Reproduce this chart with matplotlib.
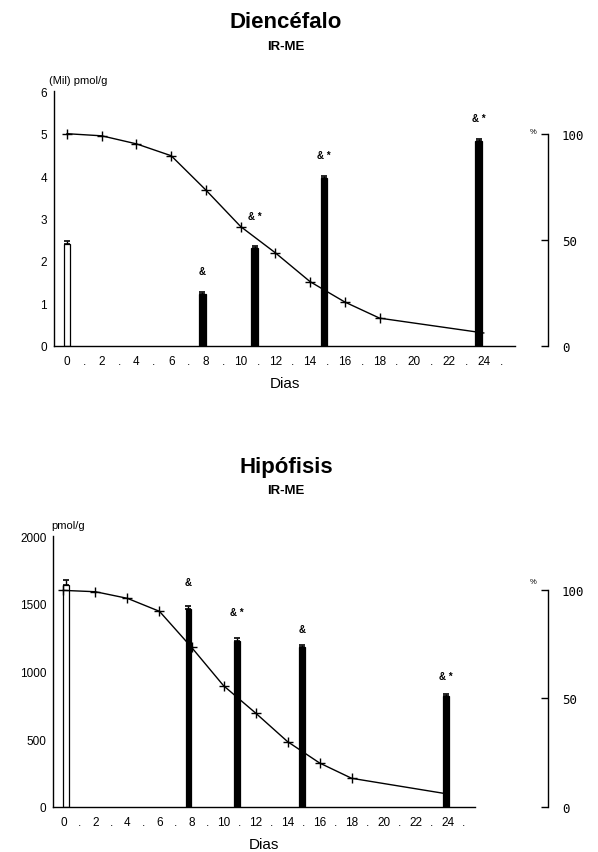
import matplotlib
matplotlib.use("Agg")
import matplotlib.pyplot as plt
from matplotlib.ticker import FixedLocator

# ---------------- data ----------------
days_line = [0, 2, 4, 6, 8, 10, 12, 14, 16, 18, 24]

dien_line = [5.0, 4.95, 4.76, 4.48, 3.67, 2.81, 2.19, 1.51, 1.03, 0.65, 0.30]
dien_bar_x = [0, 7.8, 10.8, 14.8, 23.7]
dien_bar_val = [2.41, 1.21, 2.30, 3.95, 4.83]
dien_bar_err = [0.07, 0.05, 0.04, 0.05, 0.05]
dien_marks = ['', '&', '& *', '& *', '& *']

hipo_line = [1600, 1590, 1541, 1445, 1179, 895, 693, 481, 323, 210, 94]
hipo_bar_x = [0.15, 7.8, 10.85, 14.9, 23.9]
hipo_bar_val = [1640, 1460, 1225, 1180, 820]
hipo_bar_err = [40, 25, 25, 15, 15]
hipo_marks = ['', '&', '& *', '&', '& *']

xtick_pos = list(range(0, 26))
xtick_labels = [str(d) if d % 2 == 0 else '.' for d in xtick_pos]

pct_ticks = [0, 50, 100]

# ---------------- figure ----------------
W, H = 598, 853
fig = plt.figure(figsize=(W / 100, H / 100), dpi=100)
SANS = ['Liberation Sans', 'DejaVu Sans']
MONO = ['DejaVu Sans Mono']


def px_axes(left, right, top, bottom):
    return fig.add_axes([left / W, 1 - bottom / H, (right - left) / W, (bottom - top) / H])


def panel(ax, line, bx, bv, be, marks, ylim, yticks, xlim, bar_w, mark_off,
          pct_top, spine_frac, ylab, ylab_xy, pct_xy, title, title_y, sub_y):
    ax.set_xlim(*xlim)
    ax.set_ylim(*ylim)
    colors = ['white'] + ['black'] * (len(bx) - 1)
    ax.bar(bx, bv, width=bar_w, color=colors, edgecolor='black', linewidth=0.9, zorder=2)
    ax.errorbar(bx, bv, yerr=[[0] * len(be), be], fmt='none', ecolor='black',
                elinewidth=1.0, capsize=2.5, capthick=1.2, zorder=3)
    ax.plot(days_line, line, color='black', lw=1.0, marker='+', ms=7, mew=1.0,
            markevery=list(range(len(line) - 1)), zorder=4)
    for x, v, m, o in zip(bx, bv, marks, mark_off):
        if m:
            ax.text(x, v + o, m, ha='center', va='center', fontsize=7,
                    family=SANS, fontweight='bold')
    for s in ['top', 'right']:
        ax.spines[s].set_visible(False)
    ax.spines['left'].set_linewidth(1.0)
    ax.spines['bottom'].set_linewidth(1.0)
    ax.set_xticks(xtick_pos)
    ax.set_xticklabels(xtick_labels, family=SANS, fontsize=8.5)
    ax.tick_params(axis='x', length=0, pad=7)
    ax.set_yticks(yticks)
    ax.set_yticklabels([str(t) for t in yticks], family=SANS, fontsize=8.5)
    ax.tick_params(axis='y', length=0, pad=5)
    ax.yaxis.set_minor_locator(FixedLocator([ylim[1]]))
    ax.tick_params(axis='y', which='minor', direction='in', length=5, width=1.0)
    ax.set_xlabel('Dias', family=SANS, fontsize=11, labelpad=6)

    # right percent axis
    ax2 = ax.twinx()
    ax2.set_ylim(0, pct_top)
    for s in ['top', 'bottom', 'left']:
        ax2.spines[s].set_visible(False)
    ax2.spines['right'].set_position(('axes', spine_frac))
    ax2.spines['right'].set_bounds(0, 100)
    ax2.spines['right'].set_linewidth(1.0)
    ax2.set_yticks(pct_ticks)
    ax2.set_yticklabels([str(t) for t in pct_ticks], family=MONO, fontsize=9)
    ax2.tick_params(axis='y', direction='in', length=5, width=1.0, pad=10)

    fig.text(ylab_xy[0] / W, 1 - ylab_xy[1] / H, ylab, family=SANS, fontsize=8,
             ha='left', va='center')
    fig.text(pct_xy[0] / W, 1 - pct_xy[1] / H, '%', family=SANS, fontsize=5.5,
             ha='center', va='center')
    fig.text(286 / W, 1 - title_y / H, title, family=SANS, fontsize=16,
             fontweight='bold', ha='center', va='center')
    fig.text(286 / W, 1 - sub_y / H, 'IR-ME', family=SANS, fontsize=9.5,
             fontweight='bold', ha='center', va='center')


ax_top = px_axes(54, 515, 92.3, 346.7)
panel(ax_top, dien_line, dien_bar_x, dien_bar_val, dien_bar_err, dien_marks,
      ylim=(0, 6), yticks=[0, 1, 2, 3, 4, 5, 6], xlim=(-0.75, 25.8), bar_w=0.38,
      mark_off=[0, 0.54, 0.75, 0.55, 0.53], pct_top=120.2, spine_frac=(548 - 54) / 461,
      ylab='(Mil) pmol/g', ylab_xy=(49, 81), pct_xy=(533, 133),
      title='Diencéfalo', title_y=23, sub_y=47)

ax_bot = px_axes(53.3, 475, 537.3, 807.7)
panel(ax_bot, hipo_line, hipo_bar_x, hipo_bar_val, hipo_bar_err, hipo_marks,
      ylim=(0, 2000), yticks=[0, 500, 1000, 1500, 2000], xlim=(-0.63, 25.7), bar_w=0.34,
      mark_off=[0, 200, 213, 134, 149], pct_top=124.8, spine_frac=(548 - 53.3) / 421.7,
      ylab='pmol/g', ylab_xy=(51, 526), pct_xy=(533, 583),
      title='Hipófisis', title_y=468, sub_y=491)

fig.savefig('out.png', dpi=100)
